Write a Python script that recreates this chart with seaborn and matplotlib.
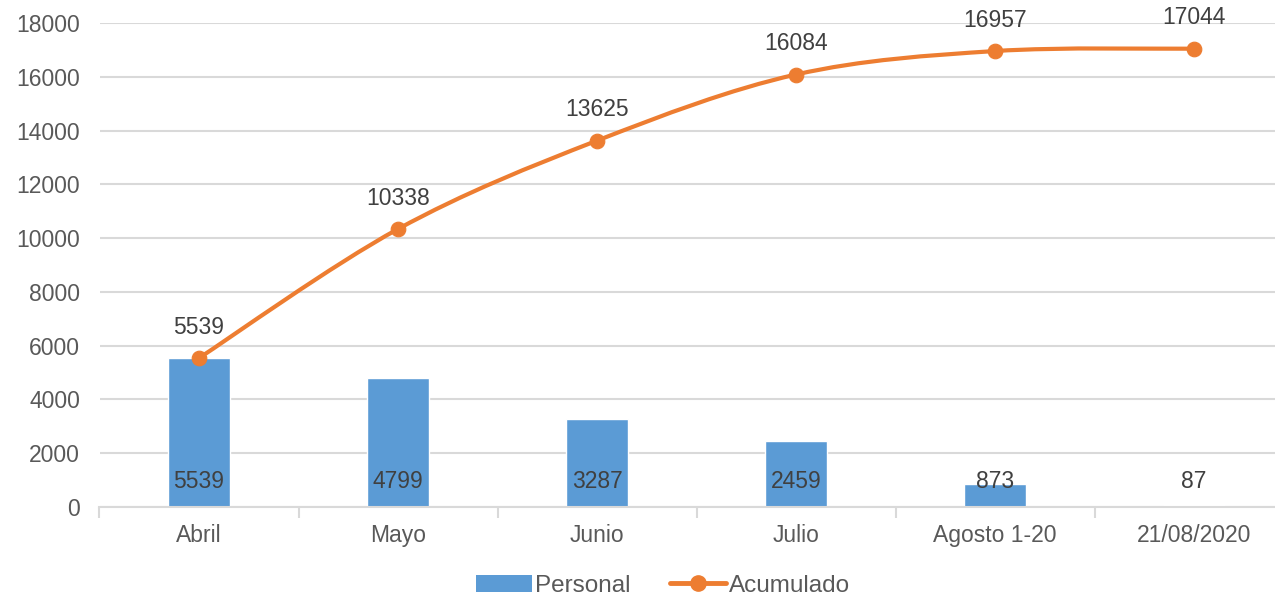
import numpy as np
import pandas as pd
import seaborn as sb
import matplotlib.pyplot as plt
from matplotlib.path import Path
from matplotlib.patches import PathPatch
from matplotlib.lines import Line2D
from matplotlib.patches import Patch

# data
meses = ["Abril", "Mayo", "Junio", "Julio", "Agosto 1-20", "21/08/2020"]
personal = [5539, 4799, 3287, 2459, 873, 87]
acumulado = [5539, 10338, 13625, 16084, 16957, 17044]

azul = "#5B9BD5"
naranja = "#ED7D31"
gris_txt = "#595959"
gris_lbl = "#404040"

sb.set_style("white")
plt.rcParams["font.family"] = ["Liberation Sans", "DejaVu Sans"]

fig = plt.figure(figsize=(12.75, 5.99), dpi=100)
ax = fig.add_axes([99.5 / 1275, 1 - 507 / 599, 1194 / 1275, (507 - 23) / 599])

df = pd.DataFrame({"mes": meses, "personal": personal})
sb.barplot(data=df, x="mes", y="personal", color=azul, width=0.31,
           saturation=1, ax=ax, zorder=2)

# smoothed line (Excel style, catmull-rom -> bezier)
xs = np.arange(len(acumulado), dtype=float)
ys = np.array(acumulado, dtype=float)
verts = [(xs[0], ys[0])]
codes = [Path.MOVETO]
for i in range(len(xs) - 1):
    p0 = np.array([xs[max(i - 1, 0)], ys[max(i - 1, 0)]])
    p1 = np.array([xs[i], ys[i]])
    p2 = np.array([xs[i + 1], ys[i + 1]])
    p3 = np.array([xs[min(i + 2, len(xs) - 1)], ys[min(i + 2, len(xs) - 1)]])
    c1 = p1 + (p2 - p0) / 6
    c2 = p2 - (p3 - p1) / 6
    verts += [tuple(c1), tuple(c2), tuple(p2)]
    codes += [Path.CURVE4] * 3
ax.add_patch(PathPatch(Path(verts, codes), facecolor="none", edgecolor=naranja,
                       lw=3, zorder=3, capstyle="round"))
sb.scatterplot(x=xs, y=ys, color=naranja, s=110, edgecolor=naranja, zorder=4,
               ax=ax, legend=False)

# labels
for i, v in enumerate(personal):
    ax.text(i, 950, str(v), ha="center", va="center", fontsize=16.5,
            color=gris_lbl, zorder=5)
for i, v in enumerate(acumulado):
    ax.text(i, v + 1150, str(v), ha="center", va="center", fontsize=16.5,
            color=gris_lbl, zorder=5, clip_on=False)

ax.set_xlim(-0.5, 5.5)
ax.set_ylim(0, 18000)
ax.set_yticks(range(0, 18001, 2000))
ax.yaxis.grid(True, color="#D9D9D9", lw=1.5, zorder=0)
ax.set_axisbelow(True)
ax.set_xlabel("")
ax.set_ylabel("")
for s in ["top", "right", "left"]:
    ax.spines[s].set_visible(False)
ax.spines["bottom"].set_color("#D9D9D9")
ax.spines["bottom"].set_linewidth(1.5)
ax.tick_params(axis="y", length=0, labelsize=16.5, labelcolor=gris_txt, pad=14)
ax.tick_params(axis="x", length=0, labelsize=16.5, labelcolor=gris_txt, pad=12)
ax.set_xticks(np.arange(-0.5, 6, 1), minor=True)
ax.tick_params(axis="x", which="minor", bottom=True, length=8,
               color="#D9D9D9", width=1.5, direction="out")

handles = [Patch(facecolor=azul, edgecolor="none"),
           Line2D([0], [0], color=naranja, lw=3.5, marker="o", markersize=11)]
fig.legend(handles, ["Personal", "Acumulado"], loc="center", ncol=2,
           bbox_to_anchor=(0.52, 0.022), frameon=False, fontsize=17.5,
           labelcolor=gris_txt, handlelength=2.3, handletextpad=0.15,
           columnspacing=1.6)

fig.savefig("out.png", dpi=100)
